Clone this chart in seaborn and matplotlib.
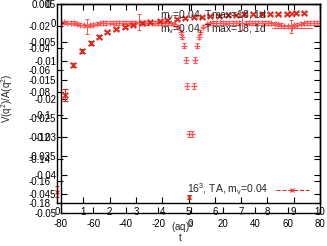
import matplotlib
matplotlib.use("Agg")
import seaborn as sns
import matplotlib.pyplot as plt
from matplotlib.lines import Line2D

# values
# ratio against t, "x" symbols (drawn on the 0..10 frame)
t_vals = [0.3, 0.62, 0.95, 1.3, 1.6, 1.9, 2.25, 2.6, 2.9, 3.25, 3.55, 3.9, 4.2, 4.55, 4.85,
          5.2, 5.5, 5.8, 6.15, 6.5, 6.8, 7.1, 7.45, 7.8, 8.1, 8.4, 8.75, 9.1, 9.4]
ratio_t = [-0.0823, -0.0552, -0.0425, -0.0353, -0.0298, -0.0253, -0.0226, -0.0208, -0.0190,
           -0.0172, -0.0163, -0.0154, -0.0145, -0.0136, -0.0127, -0.0118, -0.0118, -0.0109,
           -0.0109, -0.0100, -0.0100, -0.0091, -0.0091, -0.0091, -0.0091, -0.0091, -0.0091,
           -0.0082, -0.0082]
ratio_t_err = [0.0055, 0.0022, 0.0017, 0.0015, 0.0014, 0.0013, 0.0012, 0.0012, 0.0011,
               0.0011, 0.0011, 0.0010, 0.0010, 0.0010, 0.0010, 0.0010, 0.0010, 0.0010,
               0.0010, 0.0010, 0.0010, 0.0010, 0.0010, 0.0010, 0.0010, 0.0010, 0.0010,
               0.0010, 0.0010]

# ratio against (aq)^2, "+" symbols (drawn on the -80..80 frame)
q2_vals = [-80, -78, -76, -74, -72, -70, -68, -66, -64, -62, -60, -58, -56, -54, -52, -50,
           -48, -46, -44, -42, -40, -38, -36, -34, -32, -30, -28, -26, -24, -22, -20, -18,
           -16, -14, -12, -10, -8, -6, -5, -4, -3, -2, -1, 1, 2, 3, 4, 5, 6, 8, 10, 12, 14,
           16, 18, 20, 22, 24, 26, 28, 30, 32, 34, 36, 38, 40, 42, 44, 46, 48, 50, 52, 54,
           56, 58, 60, 62, 64, 66, 68, 70, 72, 74, 76, 78]
ratio_q2 = [0.0002, 0.0002, 0.0001, 0.0001, 0.0, -0.0002, -0.0004, -0.0006, -0.0009, -0.0006,
            -0.0004, -0.0002, -0.0001, 0.0, 0.0, 0.0001, 0.0001, 0.0, 0.0, 0.0001, 0.0001,
            0.0, 0.0, 0.0001, 0.0003, 0.0001, 0.0, 0.0, 0.0001, 0.0, 0.0, 0.0, 0.0, -0.0001,
            -0.0001, -0.0003, -0.0010, -0.0024, -0.0037, -0.0060, -0.0097, -0.0166, -0.0292,
            -0.0292, -0.0166, -0.0097, -0.0060, -0.0037, -0.0024, -0.0010, -0.0003, -0.0001,
            0.0, 0.0, 0.0, 0.0, 0.0001, 0.0, 0.0, 0.0, 0.0, 0.0, 0.0, 0.0001, 0.0, 0.0, 0.0,
            0.0, 0.0, 0.0, -0.0001, -0.0002, -0.0003, -0.0005, -0.0008, -0.0009, -0.0009,
            -0.0006, -0.0004, -0.0002, -0.0001, 0.0, 0.0, 0.0, 0.0]
ratio_q2_err = [0.0004] * 8 + [0.002] + [0.0004] * 15 + [0.0021] + [0.0004] * 12 + \
               [0.0006, 0.0006, 0.0007, 0.0007, 0.0008, 0.0008, 0.0008, 0.0008, 0.0007,
                0.0007, 0.0006, 0.0006] + [0.0004] * 12 + [0.0018] + [0.0004] * 14 + \
               [0.0017] + [0.0004] * 8

# 16^3 TA points
ta_t = [0.0, 5.0]
ta_ratio = [-0.170, -0.1746]
ta_err = [0.005, 0.002]

t_ticks = [0, 1, 2, 3, 4, 5, 6, 7, 8, 9, 10]
t_yticks = [0, -0.02, -0.04, -0.06, -0.08, -0.1, -0.12, -0.14, -0.16, -0.18]
q2_ticks = [-80, -60, -40, -20, 0, 20, 40, 60, 80]
q2_yticks = [0.005, 0, -0.005, -0.01, -0.015, -0.02, -0.025, -0.03, -0.035, -0.04, -0.045, -0.05]

label_fit = "m$_v$=0.04, Tmax=18, 1d"
label_ta = "16$^3$, TA, m$_v$=0.04"

sns.set_style("ticks")
plt.rcParams["font.family"] = ["Liberation Sans", "DejaVu Sans"]
plt.rcParams["mathtext.fontset"] = "custom"
plt.rcParams["mathtext.rm"] = "Liberation Sans"
plt.rcParams["mathtext.it"] = "Liberation Sans"
plt.rcParams["mathtext.default"] = "regular"
plt.rcParams["axes.unicode_minus"] = False

red = "#e0281c"
pink = "#ff5252"

W, H = 327, 246


def rect(l, t, r, b):
    return [l / W, 1 - b / H, (r - l) / W, (b - t) / H]


fig = plt.figure(figsize=(W / 100, H / 100), dpi=100)
ax_q = fig.add_axes(rect(61, 4, 320, 213), facecolor="none")
ax_t = fig.add_axes(rect(57, 4, 320, 203), facecolor="none")

for ax in (ax_q, ax_t):
    for s in ax.spines.values():
        s.set_linewidth(1.0)
        s.set_color("black")
        s.set_visible(True)
    ax.tick_params(direction="in", length=4, width=0.8, top=True, right=True,
                   labelsize=7, colors="black")

# (aq)^2 frame
ax_q.errorbar(q2_vals, ratio_q2, yerr=ratio_q2_err, fmt="none", ecolor=pink,
              elinewidth=0.7, capsize=1.2, capthick=0.7)
sns.scatterplot(x=q2_vals, y=ratio_q2, ax=ax_q, marker="+", color=pink, s=18,
                linewidth=0.9)
ax_q.set_xlim(-80, 80)
ax_q.set_ylim(-0.05, 0.005)
ax_q.set_xticks(q2_ticks)
ax_q.set_xticklabels([str(v) for v in q2_ticks])
ax_q.set_yticks(q2_yticks)
ax_q.set_yticklabels(["%g" % v if v != -0.05 else "-0.05" for v in q2_yticks])
ax_q.tick_params(axis="x", pad=4.5)
ax_q.tick_params(axis="y", pad=3.5)
ax_q.set_xlabel("t", fontsize=7)
ax_q.xaxis.set_label_coords((180 - 61) / 259, (213 - 233) / 209)
ax_q.set_ylabel("")

# t frame
ax_t.errorbar(t_vals, ratio_t, yerr=ratio_t_err, fmt="none", ecolor=red,
              elinewidth=0.8, capsize=2, capthick=0.8)
sns.scatterplot(x=t_vals, y=ratio_t, ax=ax_t, marker="x", color=red, s=16,
                linewidth=1.3)
ax_t.errorbar(ta_t, ta_ratio, yerr=ta_err, fmt="x", color=red, ms=3, mew=0.8,
              elinewidth=0.8, capsize=1.5, clip_on=False)
ax_t.set_xlim(0, 10)
ax_t.set_ylim(-0.18, 0)
ax_t.set_xticks(t_ticks)
ax_t.set_xticklabels([str(v) for v in t_ticks])
ax_t.set_yticks(t_yticks)
ax_t.set_yticklabels(["%g" % v for v in t_yticks])
ax_t.tick_params(axis="x", pad=3)
ax_t.tick_params(axis="y", pad=4.5)
ax_t.set_xlabel("(aq)$^2$", fontsize=7)
ax_t.xaxis.set_label_coords((182 - 57) / 263, (203 - 219) / 199)
ax_t.set_ylabel("")

h_x = Line2D([], [], color=red, marker="x", ls="none", ms=4, mew=1.2)
h_p = Line2D([], [], color=pink, marker="+", ls="-", lw=0.8, ms=4, mew=0.8)
leg1 = ax_t.legend([h_x, h_p], [label_fit, label_fit], loc="upper right",
                   bbox_to_anchor=((312 - 57) / 263, (203 - 8) / 199), frameon=False,
                   fontsize=7.5, markerfirst=False, handlelength=3.8, handletextpad=0.5,
                   labelspacing=0.05, borderpad=0, borderaxespad=0)
ax_t.add_artist(leg1)
h_ta = Line2D([], [], color=red, marker="x", ls="--", lw=0.8, ms=3.5, mew=0.8)
ax_t.legend([h_ta], [label_ta], loc="lower right",
            bbox_to_anchor=((309 - 57) / 263, (203 - 197) / 199), frameon=False,
            fontsize=7.5, markerfirst=False, handlelength=3.2, handletextpad=0.7,
            borderpad=0, borderaxespad=0)

fig.text(7 / W, 1 - 98 / H, "V(q$^2$)/A(q$^2$)", rotation=90, fontsize=7,
         ha="center", va="center")

fig.savefig("out.png", dpi=100)
